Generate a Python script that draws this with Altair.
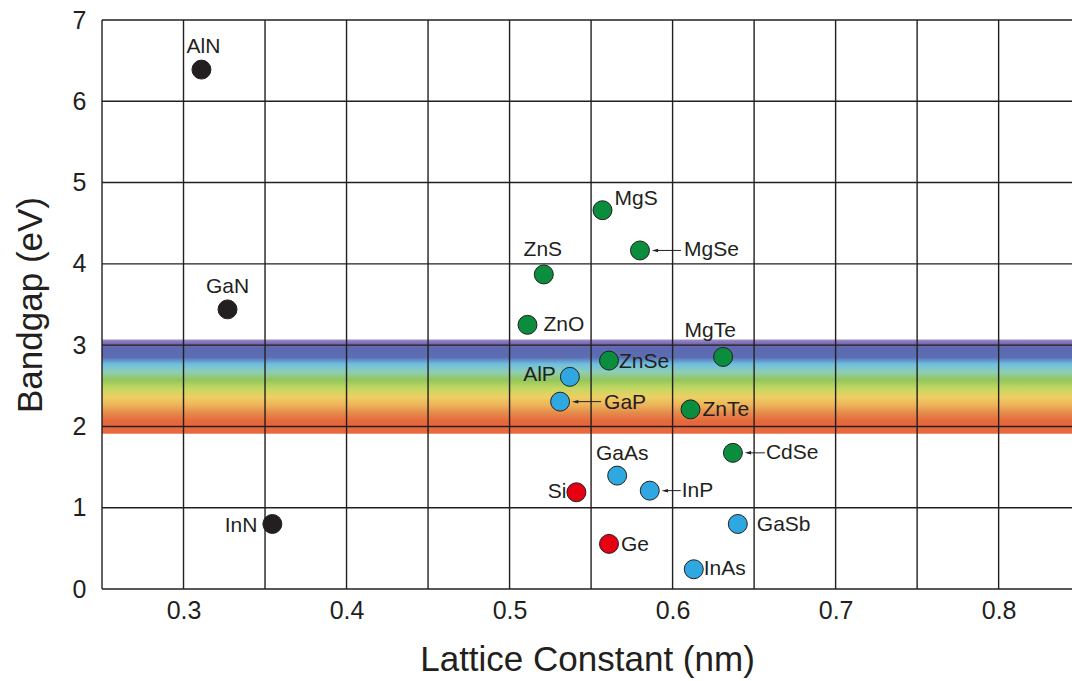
import altair as alt
import pandas as pd

# ---- data ----
materials = ["AlN", "GaN", "InN",
             "MgS", "MgSe", "ZnS", "ZnO", "MgTe", "ZnSe", "ZnTe", "CdSe",
             "AlP", "GaP", "GaAs", "InP", "GaSb", "InAs",
             "Si", "Ge"]
lattice = [0.311, 0.327, 0.3545,
           0.557, 0.580, 0.521, 0.511, 0.631, 0.561, 0.611, 0.637,
           0.537, 0.531, 0.566, 0.586, 0.640, 0.613,
           0.541, 0.561]
bandgap = [6.39, 3.44, 0.80,
           4.66, 4.165, 3.87, 3.25, 2.855, 2.81, 2.21, 1.675,
           2.61, 2.305, 1.395, 1.21, 0.80, 0.243,
           1.19, 0.555]
family = ["nitride"] * 3 + ["II-VI"] * 8 + ["III-V"] * 6 + ["IV"] * 2

family_names = ["nitride", "II-VI", "III-V", "IV"]
family_colors = ["#231f20", "#0a8d3c", "#2fa7e0", "#e50012"]

x_ticks = [0.3, 0.4, 0.5, 0.6, 0.7, 0.8]
x_grid = [0.25, 0.3, 0.35, 0.4, 0.45, 0.5, 0.55, 0.6, 0.65, 0.7, 0.75, 0.8]
y_grid = [0, 1, 2, 3, 4, 5, 6, 7]
x_domain = [0.25, 0.845]
y_domain = [0, 7]
band_low, band_high = 1.91, 3.07  # visible-light band (eV)

# label placement (style): align, dx, dy, arrow (tip, end) in px
place = {
    "AlN": ("center", 2, -23, None), "GaN": ("center", 0, -22, None),
    "InN": ("right", -15, 2, None), "MgS": ("left", 12, -11, None),
    "MgSe": ("left", 44, 0, (12, 41)), "ZnS": ("center", -1, -24, None),
    "ZnO": ("left", 16, 0, None), "MgTe": ("center", -13, -26, None),
    "ZnSe": ("left", 10, 1, None), "AlP": ("right", -14, -2, None),
    "GaP": ("left", 44, 1, (12, 41)), "ZnTe": ("left", 12, 1, None),
    "CdSe": ("left", 33, 0, (12, 32)), "GaAs": ("center", 5, -22, None),
    "Si": ("right", -10, 0, None), "InP": ("left", 32, 0, (12, 31)),
    "GaSb": ("left", 19, 1, None), "Ge": ("left", 12, 1, None),
    "InAs": ("left", 10, 0, None),
}

df = pd.DataFrame({"name": materials, "a": lattice, "eg": bandgap, "family": family})

W, H = 970, 569
ink = "#231f20"

xs = alt.Scale(domain=x_domain, nice=False, zero=False)
ys = alt.Scale(domain=y_domain, nice=False, zero=False)

band_df = pd.DataFrame({"x0": [x_domain[0]], "x1": [x_domain[1]], "lo": [band_low], "hi": [band_high]})
stops = [
    ("#a08fc6", 0.0), ("#7b6bb3", 0.04), ("#5e68b0", 0.09), ("#5c6db4", 0.19),
    ("#6cbfe0", 0.26), ("#8ecdba", 0.34), ("#93c65b", 0.43), ("#c3d863", 0.52),
    ("#eecf63", 0.61), ("#ecb25a", 0.70), ("#e58a4a", 0.78), ("#e5683c", 0.87),
    ("#ea6a3f", 1.0),
]
band = alt.Chart(band_df).mark_rect(
    fill=alt.Gradient(gradient="linear", x1=0, x2=0, y1=0, y2=1,
                      stops=[alt.GradientStop(color=c, offset=o) for c, o in stops])
).encode(
    x=alt.X("x0:Q", scale=xs, axis=alt.Axis(
        title="Lattice Constant (nm)", values=x_ticks, format=".1f", grid=False,
        domain=False, ticks=False, labelPadding=9, titlePadding=19)),
    x2="x1:Q",
    y=alt.Y("lo:Q", scale=ys, axis=alt.Axis(
        title="Bandgap (eV)", values=y_grid, format="d", grid=False,
        domain=False, ticks=False, labelPadding=16, titlePadding=24)),
    y2="hi:Q",
)

vgrid = alt.Chart(pd.DataFrame({"g": x_grid})).mark_rule(color=ink, strokeWidth=1.4).encode(
    x=alt.X("g:Q", scale=xs))
hgrid = alt.Chart(pd.DataFrame({"g": y_grid})).mark_rule(color=ink, strokeWidth=1.4).encode(
    y=alt.Y("g:Q", scale=ys))

points = alt.Chart(df).mark_circle(size=360, opacity=1, stroke=ink, strokeWidth=1).encode(
    x=alt.X("a:Q", scale=xs),
    y=alt.Y("eg:Q", scale=ys),
    color=alt.Color("family:N", scale=alt.Scale(domain=family_names, range=family_colors), legend=None),
)

layers = [band, vgrid, hgrid]
for name, (align, dx, dy, arrow) in place.items():
    base = alt.Chart(df).transform_filter(alt.datum.name == name)
    if arrow is not None:
        tip, end = arrow
        layers.append(base.mark_rule(color=ink, strokeWidth=1, xOffset=tip + 3, x2Offset=end).encode(
            x=alt.X("a:Q", scale=xs), x2="a:Q", y=alt.Y("eg:Q", scale=ys)))
        layers.append(base.mark_point(shape="M-1,0L1,-0.55L1,0.55Z", filled=True, color=ink,
                                      opacity=1, size=40, xOffset=tip + 3).encode(
            x=alt.X("a:Q", scale=xs), y=alt.Y("eg:Q", scale=ys)))
    layers.append(base.mark_text(align=align, baseline="middle", dx=dx, dy=dy,
                                 font="Liberation Sans", fontSize=21, color=ink).encode(
        x=alt.X("a:Q", scale=xs), y=alt.Y("eg:Q", scale=ys), text="name:N"))
layers.insert(3, points)

chart = alt.layer(*layers).properties(
    width=W, height=H,
    autosize=alt.AutoSizeParams(type="none"),
    padding={"left": 102, "top": 20, "right": 0, "bottom": 92},
).configure_view(stroke=None).configure_axis(
    labelFont="Liberation Sans Narrow, Liberation Sans", labelFontSize=25, labelColor=ink,
    titleFont="Liberation Sans", titleFontSize=35, titleFontWeight="normal", titleColor=ink,
)

chart.save("out.html", embed_options={"renderer": "svg", "actions": False})
